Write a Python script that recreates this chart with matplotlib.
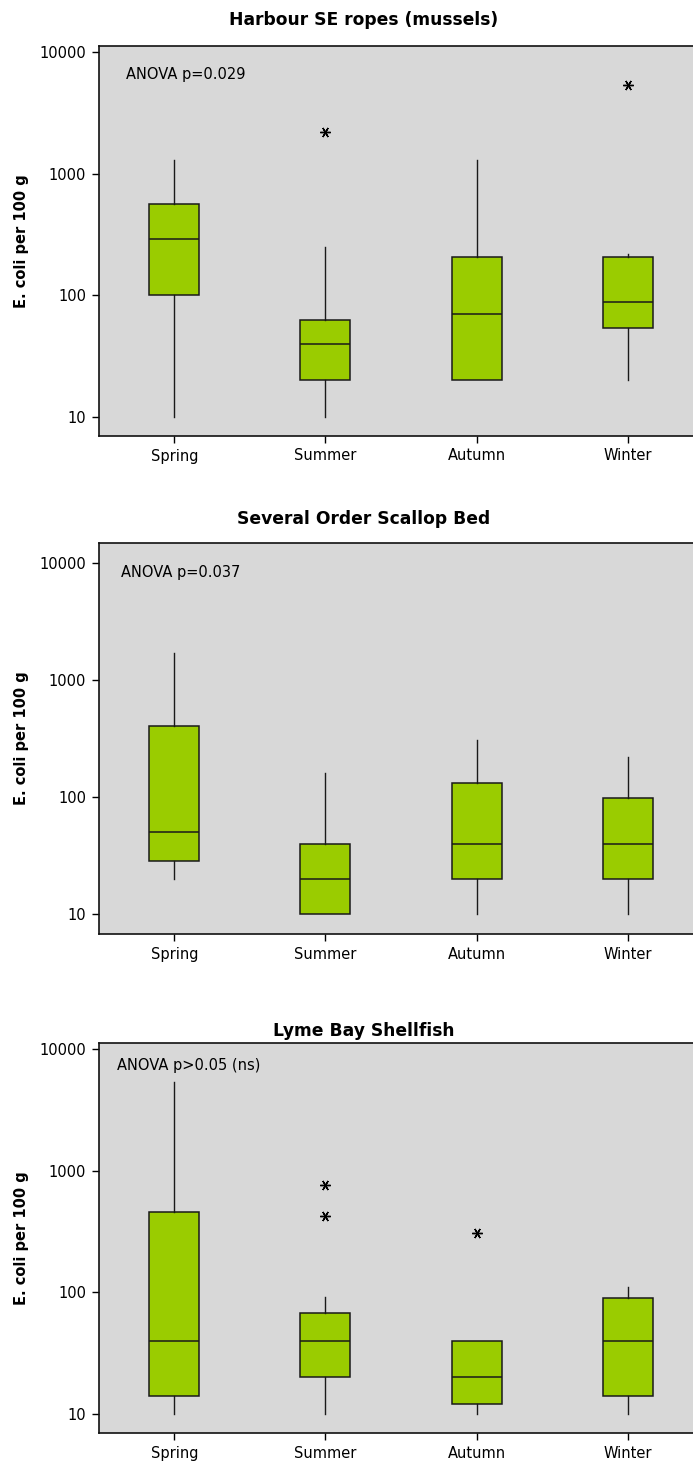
import matplotlib
matplotlib.use("Agg")
import matplotlib.pyplot as plt

plt.rcParams['font.family'] = ['DejaVu Sans']

seasons = ["Spring", "Summer", "Autumn", "Winter"]
titles = ["Harbour SE ropes (mussels)", "Several Order Scallop Bed", "Lyme Bay Shellfish"]
anova_labels = ["ANOVA p=0.029", "ANOVA p=0.037", "ANOVA p>0.05 (ns)"]
ytick_values = [10, 100, 1000, 10000]
ylabel = "E. coli per 100 g"

# Box statistics per site: [Spring, Summer, Autumn, Winter]
harbour_low = [10, 10, 20, 20]
harbour_q1 = [100, 20, 20, 54]
harbour_med = [290, 40, 70, 88]
harbour_q3 = [560, 62, 205, 205]
harbour_high = [1300, 250, 1300, 220]
harbour_out = [[], [2200], [], [5400]]

scallop_low = [20, 10, 10, 10]
scallop_q1 = [28.5, 10, 20, 20]
scallop_med = [50, 20, 40, 40]
scallop_q3 = [408, 40, 132, 98]
scallop_high = [1700, 160, 307, 222]
scallop_out = [[], [], [], []]

lyme_low = [10, 10, 10, 10]
lyme_q1 = [14, 20, 12, 14]
lyme_med = [40, 40, 20, 40]
lyme_q3 = [460, 68, 40, 89]
lyme_high = [5400, 92, 40, 111]
lyme_out = [[], [757, 424], [309], []]

sites = [
    (harbour_low, harbour_q1, harbour_med, harbour_q3, harbour_high, harbour_out),
    (scallop_low, scallop_q1, scallop_med, scallop_q3, scallop_high, scallop_out),
    (lyme_low, lyme_q1, lyme_med, lyme_q3, lyme_high, lyme_out),
]

# Layout (figure pixels)
W, H = 693, 1463
ax_left, ax_right = 98.7, 703.3
ax_tops = [45.7, 542.7, 1042.7]
ax_bottoms = [436.0, 934.3, 1433.3]
ylims = [(6.94, 11334), (6.70, 15000), (6.94, 11268)]
anova_pos = [(0.045, 0.927), (0.037, 0.923), (0.031, 0.941)]
title_y = [20, 519, 1031]

bg = "#D8D8D8"
green = "#9ACC00"

fig = plt.figure(figsize=(W / 100, H / 100), dpi=100)

for i, (lo, q1, med, q3, hi, out) in enumerate(sites):
    ax = fig.add_axes([ax_left / W, 1 - ax_bottoms[i] / H,
                       (ax_right - ax_left) / W, (ax_bottoms[i] - ax_tops[i]) / H])
    ax.set_facecolor(bg)
    stats = []
    for j in range(4):
        stats.append(dict(whislo=lo[j], q1=q1[j], med=med[j], q3=q3[j],
                          whishi=hi[j], fliers=out[j], label=seasons[j]))
    ax.bxp(stats, positions=[1, 2, 3, 4], widths=0.33, patch_artist=True,
           showcaps=False,
           boxprops=dict(facecolor=green, edgecolor="#1a1a1a", linewidth=1.1),
           medianprops=dict(color="#1a1a1a", linewidth=1.1),
           whiskerprops=dict(color="#1a1a1a", linewidth=1.0),
           flierprops=dict(marker=(6, 2, 90), markersize=7.5, markeredgecolor="black",
                           markeredgewidth=1.0, linestyle="none"))
    ax.set_yscale("log")
    ax.set_ylim(*ylims[i])
    ax.set_xlim(0.5, 4.5)
    ax.set_yticks(ytick_values)
    ax.set_yticklabels([str(v) for v in ytick_values])
    ax.yaxis.set_minor_locator(matplotlib.ticker.NullLocator())
    ax.set_xticks([1, 2, 3, 4])
    ax.set_xticklabels(seasons)
    ax.tick_params(axis="both", labelsize=10.5, length=5, width=1.0, pad=4, colors="black")
    for s in ["top", "left", "bottom", "right"]:
        ax.spines[s].set_linewidth(1.2)
        ax.spines[s].set_color("#111111")
    ax.text(anova_pos[i][0], anova_pos[i][1], anova_labels[i], transform=ax.transAxes,
            fontsize=10.5, ha="left", va="center")
    yc = 1 - (ax_tops[i] + ax_bottoms[i]) / 2 / H
    fig.text(22 / W, yc, ylabel, fontsize=10.5, fontweight="bold", rotation=90,
             ha="center", va="center")
    fig.text(363.5 / W, 1 - title_y[i] / H, titles[i], fontsize=12.3, fontweight="bold",
             ha="center", va="center")

fig.savefig("out.png", dpi=100)
